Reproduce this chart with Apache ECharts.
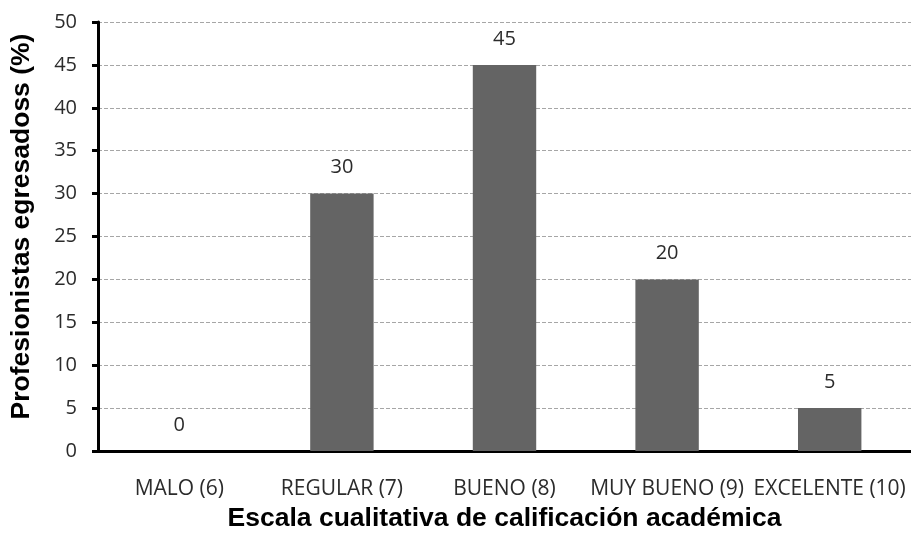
<!DOCTYPE html>
<html>
<head>
<meta charset="utf-8">
<script src="https://cdn.jsdelivr.net/npm/echarts@6/dist/echarts.min.js"></script>
<style>
  html, body { margin: 0; padding: 0; background: #fff; }
  #chart { width: 911px; height: 550px; }
</style>
</head>
<body>
<div id="chart"></div>
<script>
// Academic grade scale categories and share of graduates (%)
const categories = ['MALO (6)', 'REGULAR (7)', 'BUENO (8)', 'MUY BUENO (9)', 'EXCELENTE (10)'];
const percentages = [0, 30, 45, 20, 5];
const yTicks = { min: 0, max: 50, interval: 5 };
const xTitle = 'Escala cualitativa de calificación académica';
const yTitle = 'Profesionistas egresadoss (%)';

const labelFont = '"Open Sans", "Noto Sans", sans-serif';
const titleFont = '"Liberation Sans", Arial, sans-serif';

const chart = echarts.init(document.getElementById('chart'));
chart.setOption({
  animation: false,
  backgroundColor: '#ffffff',
  grid: { left: 98, right: 0, top: 22, bottom: 99 },
  xAxis: {
    type: 'category',
    data: categories,
    name: xTitle,
    nameLocation: 'middle',
    nameGap: 54,
    nameTextStyle: { fontFamily: titleFont, fontWeight: 'bold', fontSize: 26.5, color: '#000' },
    axisLine: { lineStyle: { color: '#000', width: 3 } },
    axisTick: { show: false },
    axisLabel: { interval: 0, hideOverlap: false, margin: 28, fontFamily: labelFont, fontSize: 21, color: '#2b2b2b' },
    splitLine: { show: false }
  },
  yAxis: {
    type: 'value',
    min: yTicks.min,
    max: yTicks.max,
    interval: yTicks.interval,
    name: yTitle,
    nameLocation: 'middle',
    nameGap: 63,
    nameTextStyle: { fontFamily: titleFont, fontWeight: 'bold', fontSize: 26.5, color: '#000', padding: [0, 0, 0, 20] },
    axisLine: { show: true, lineStyle: { color: '#000', width: 3 } },
    axisTick: { show: true, length: 6, lineStyle: { color: '#000', width: 3 } },
    axisLabel: { margin: 21, fontFamily: labelFont, fontSize: 20, color: '#2b2b2b' },
    splitLine: { show: true, lineStyle: { color: '#a6a6a6', type: 'dashed', width: 1 } }
  },
  series: [{
    type: 'bar',
    data: percentages,
    barWidth: '39%',
    itemStyle: { color: '#646464' },
    label: {
      show: true,
      position: 'top',
      distance: 16,
      fontFamily: labelFont,
      fontSize: 20,
      color: '#2b2b2b'
    }
  }]
});
</script>
</body>
</html>
